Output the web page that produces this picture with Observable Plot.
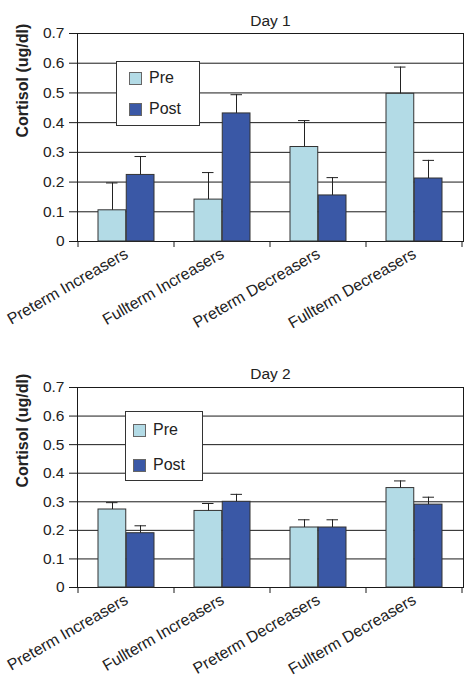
<!DOCTYPE html>
<html>
<head>
<meta charset="utf-8">
<script src="https://cdn.jsdelivr.net/npm/d3@7"></script>
<script src="https://cdn.jsdelivr.net/npm/@observablehq/plot@0.6"></script>
<style>
  html, body { margin: 0; padding: 0; background: #fff; }
  body { width: 475px; height: 686px; overflow: hidden; font-family: "Liberation Sans", Arial, sans-serif; color: #222; }
  #wrap { position: relative; width: 475px; height: 686px; }
  .panel { position: absolute; left: 0; }
  .legend { position: absolute; background: #fff; border: 1px solid #333; box-sizing: border-box; font-size: 16px; }
  .legend .item { position: absolute; display: flex; align-items: center; }
  .legend .sw { width: 13px; height: 13px; box-sizing: border-box; border: 1px solid #666; margin-right: 7px; }
</style>
</head>
<body>
<div id="wrap"></div>
<script>
// ---- data ----
const categories = ["Preterm Increasers", "Fullterm Increasers", "Preterm Decreasers", "Fullterm Decreasers"];
const series = ["Pre", "Post"];
const yTicks = [0, 0.1, 0.2, 0.3, 0.4, 0.5, 0.6, 0.7];

const day1Pre = [0.105, 0.141, 0.318, 0.497];
const day1Post = [0.224, 0.431, 0.155, 0.212];
const day1PreErr = [0.092, 0.091, 0.089, 0.090];
const day1PostErr = [0.062, 0.063, 0.060, 0.061];

const day2Pre = [0.273, 0.268, 0.210, 0.348];
const day2Post = [0.190, 0.300, 0.210, 0.290];
const day2PreErr = [0.024, 0.026, 0.027, 0.025];
const day2PostErr = [0.026, 0.026, 0.027, 0.026];

const colors = {Pre: "#b3dbe6", Post: "#3a58a6"};
const font = "'Liberation Sans', Arial, Helvetica, sans-serif";

function rows(pre, post, preErr, postErr) {
  const out = [];
  categories.forEach((c, i) => {
    out.push({cat: c, phase: "Pre", value: pre[i], hi: pre[i] + preErr[i]});
    out.push({cat: c, phase: "Post", value: post[i], hi: post[i] + postErr[i]});
  });
  return out;
}

function panel({title, data, top, height, marginTop, marginBottom, titleDy, legend}) {
  const pre = data.filter(d => d.phase === "Pre");
  const post = data.filter(d => d.phase === "Post");
  const bw = (475 - 77 - 12) / categories.length;
  const half = bw / 2;
  const chart = Plot.plot({
    width: 475,
    height,
    marginLeft: 77,
    marginRight: 12,
    marginTop,
    marginBottom,
    style: {fontFamily: font, fontSize: "15px", color: "#222", background: "white", overflow: "visible"},
    x: {domain: categories, padding: 0, label: null},
    y: {domain: [0, 0.7], label: null},
    marks: [
      Plot.ruleY(yTicks, {stroke: "#1a1a1a", strokeWidth: 1}),
      Plot.frame({stroke: "#1a1a1a", strokeWidth: 1}),
      Plot.axisY({ticks: yTicks, tickSize: 8, tickPadding: 5, tickFormat: d => d === 0 ? "0" : d3.format(".1f")(d), stroke: "#1a1a1a", fontSize: 15.5}),
      Plot.axisX({tickSize: 0, tickPadding: 11, tickRotate: -30, fontSize: 16}),
      Plot.barY(pre, {x: "cat", y: "value", fill: colors.Pre, stroke: "#333", strokeWidth: 1, insetLeft: 20, insetRight: half}),
      Plot.barY(post, {x: "cat", y: "value", fill: colors.Post, stroke: "#333", strokeWidth: 1, insetLeft: half, insetRight: 20}),
      Plot.ruleX(pre, {x: "cat", y1: "value", y2: "hi", dx: -14, stroke: "#222"}),
      Plot.ruleX(post, {x: "cat", y1: "value", y2: "hi", dx: 14, stroke: "#222"}),
      Plot.tickY(pre, {x: "cat", y: "hi", insetLeft: 28, insetRight: bw - 40, stroke: "#222"}),
      Plot.tickY(post, {x: "cat", y: "hi", insetLeft: bw - 40, insetRight: 28, stroke: "#222"}),
      Plot.text([title], {frameAnchor: "top", lineAnchor: "middle", dy: titleDy, fontSize: 15.5, fill: "#222"}),
      Plot.text(["Cortisol (ug/dl)"], {frameAnchor: "left", rotate: -90, dx: -55, fontWeight: "bold", fontSize: 16, fill: "#222"})
    ]
  });
  // ticks at category band edges below the baseline
  const xs = chart.scale("x"), ys = chart.scale("y");
  const y0 = ys.apply(0);
  const edges = categories.map(c => xs.apply(c)).concat([xs.apply(categories[categories.length - 1]) + xs.bandwidth]);
  d3.select(chart).append("g").attr("stroke", "#1a1a1a")
    .selectAll("line").data(edges).join("line")
    .attr("x1", d => d).attr("x2", d => d).attr("y1", y0).attr("y2", y0 + 6);

  const div = document.createElement("div");
  div.className = "panel";
  div.style.top = top + "px";
  div.appendChild(chart);
  document.getElementById("wrap").appendChild(div);

  // legend
  const lg = document.createElement("div");
  lg.className = "legend";
  Object.assign(lg.style, {left: legend.left + "px", top: legend.top + "px", width: legend.w + "px", height: legend.h + "px"});
  series.forEach((s, i) => {
    const it = document.createElement("div");
    it.className = "item";
    Object.assign(it.style, {left: legend.padX + "px", top: legend.rowTops[i] + "px"});
    const sw = document.createElement("div");
    sw.className = "sw";
    sw.style.background = colors[s];
    const tx = document.createElement("span");
    tx.textContent = s;
    it.appendChild(sw); it.appendChild(tx);
    lg.appendChild(it);
  });
  document.getElementById("wrap").appendChild(lg);
}

panel({
  title: "Day 1",
  data: rows(day1Pre, day1Post, day1PreErr, day1PostErr),
  top: 0, height: 340, marginTop: 33, marginBottom: 99, titleDy: -12,
  legend: {left: 116, top: 61, w: 84, h: 65, padX: 12, rowTops: [7, 38]}
});
panel({
  title: "Day 2",
  data: rows(day2Pre, day2Post, day2PreErr, day2PostErr),
  top: 340, height: 346, marginTop: 47, marginBottom: 99, titleDy: -13,
  legend: {left: 125, top: 411, w: 78, h: 70, padX: 7, rowTops: [9, 44]}
});
</script>
</body>
</html>
